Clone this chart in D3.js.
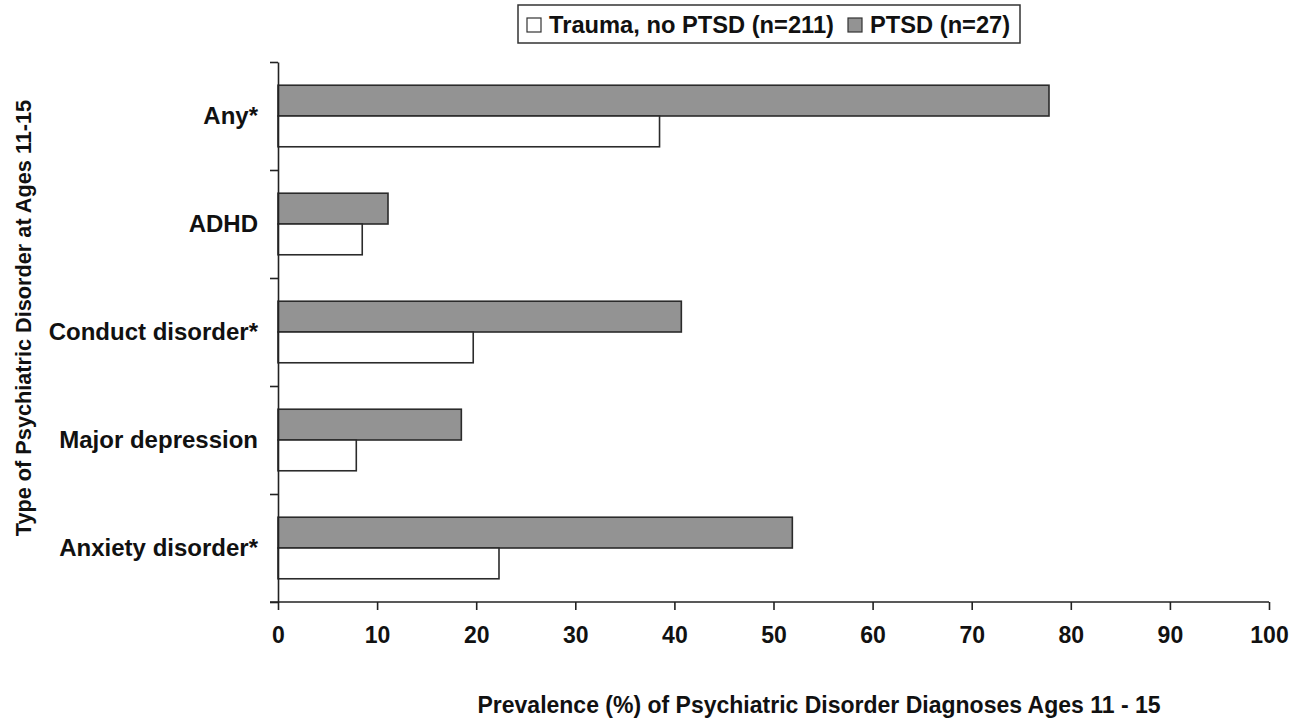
<!DOCTYPE html>
<html>
<head>
<meta charset="utf-8">
<script src="https://cdn.jsdelivr.net/npm/d3@7"></script>
<style>
  body { margin: 0; background: #fff; }
  svg text { font-family: "Liberation Sans", Arial, sans-serif; font-weight: bold; fill: #111; }
</style>
</head>
<body>
<div class="chart"></div>
<script>
// chart data
var categories = ["Any*", "ADHD", "Conduct disorder*", "Major depression", "Anxiety disorder*"];
var seriesNames = ["PTSD (n=27)", "Trauma, no PTSD (n=211)"];
var ptsdValues = [77.8, 11.1, 40.7, 18.5, 51.9];
var traumaValues = [38.5, 8.5, 19.7, 7.9, 22.3];
var xTicks = [0, 10, 20, 30, 40, 50, 60, 70, 80, 90, 100];

var W = 1309, H = 720;
var margin = {top: 62, left: 278, right: 40, bottom: 118};
var w = W - margin.left - margin.right;
var h = H - margin.top - margin.bottom;

var svg = d3.select(".chart").append("svg")
    .attr("width", W)
    .attr("height", H);

var g = svg.append("g")
    .attr("transform", "translate(" + margin.left + "," + margin.top + ")");

var x_scale = d3.scaleLinear().domain([0, 100]).range([0, w]);
var y_scale = d3.scaleBand().domain(categories).range([0, h])
    .paddingInner(0.43).paddingOuter(0.215);
var sub_scale = d3.scaleBand().domain(seriesNames).range([0, y_scale.bandwidth()]);
var fills = {"PTSD (n=27)": "#939393", "Trauma, no PTSD (n=211)": "#ffffff"};

var rows = categories.map(function(c, i) {
    return [
        {cat: c, s: seriesNames[0], v: ptsdValues[i]},
        {cat: c, s: seriesNames[1], v: traumaValues[i]}
    ];
});

g.selectAll(".grp").data(rows).enter().append("g")
    .attr("class", "grp")
    .attr("transform", function(d) { return "translate(0," + y_scale(d[0].cat) + ")"; })
  .selectAll("rect").data(function(d) { return d; }).enter().append("rect")
    .attr("x", x_scale(0))
    .attr("y", function(d) { return sub_scale(d.s); })
    .attr("width", function(d) { return x_scale(d.v) - x_scale(0); })
    .attr("height", sub_scale.bandwidth())
    .attr("fill", function(d) { return fills[d.s]; })
    .attr("stroke", "#2b2b2b")
    .attr("stroke-width", 1.6);

// x axis
var xAxis = g.append("g")
    .attr("transform", "translate(0," + h + ")")
    .call(d3.axisBottom(x_scale).tickValues(xTicks).tickSize(8).tickPadding(17).tickSizeOuter(0));
xAxis.select(".domain").attr("d", "M-8,0H" + w);
xAxis.selectAll("line, .domain").attr("stroke", "#222").attr("stroke-width", 1.6);
xAxis.selectAll("text").style("font-size", "23px").attr("font-family", null);

// y axis boundary ticks
var yIdx = d3.scaleLinear().domain([0, categories.length]).range([0, h]);
var yAxis = g.append("g")
    .call(d3.axisLeft(yIdx).ticks(categories.length).tickSize(8).tickFormat("").tickSizeOuter(0));
yAxis.selectAll("line, .domain").attr("stroke", "#222").attr("stroke-width", 1.6);

// category labels
var yLabels = g.append("g")
    .call(d3.axisLeft(y_scale).tickSize(0).tickPadding(20));
yLabels.select(".domain").remove();
yLabels.selectAll("text").style("font-size", "24px").attr("font-family", null);

// axis titles
svg.append("text")
    .attr("x", 819).attr("y", 713)
    .attr("text-anchor", "middle")
    .style("font-size", "23px")
    .text("Prevalence (%) of Psychiatric Disorder Diagnoses Ages 11 - 15");

svg.append("text")
    .attr("transform", "translate(31,318) rotate(-90)")
    .attr("text-anchor", "middle")
    .style("font-size", "21.7px")
    .text("Type of Psychiatric Disorder at Ages 11-15");

// legend
var legend = svg.append("g").attr("transform", "translate(518,5)");
legend.append("rect")
    .attr("width", 502).attr("height", 38)
    .attr("fill", "#fff").attr("stroke", "#333").attr("stroke-width", 1.5);

var legendItems = [
    {name: seriesNames[1], x: 9, tx: 31},
    {name: seriesNames[0], x: 330, tx: 352}
];
legendItems.forEach(function(it) {
    legend.append("rect")
        .attr("x", it.x).attr("y", 13)
        .attr("width", 14).attr("height", 14)
        .attr("fill", fills[it.name])
        .attr("stroke", "#333").attr("stroke-width", 1.2);
    legend.append("text")
        .attr("x", it.tx).attr("y", 28)
        .style("font-size", "23.7px")
        .text(it.name);
});
</script>
</body>
</html>
